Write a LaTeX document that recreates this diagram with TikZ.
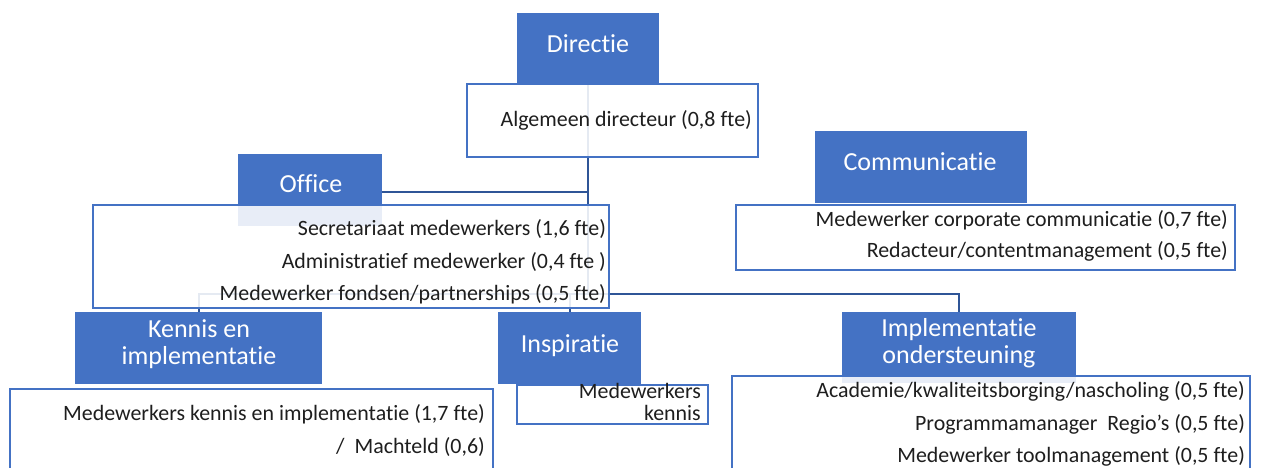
\documentclass[tikz,border=0pt]{standalone}
\usepackage{fontspec}
\setmainfont{Carlito}[Ligatures=NoCommon]
\definecolor{hdrblue}{HTML}{4472C4}
\definecolor{linkblue}{HTML}{2F5597}
\definecolor{txtc}{HTML}{1E1E1E}
\newcommand\hfnt{\fontsize{26}{27}\selectfont}
\newcommand\cfnt{\fontsize{21.9}{32}\selectfont}
\tikzset{
  hdrbox/.style={draw=none, fill=hdrblue, anchor=north west, inner sep=0pt},
  cbox/.style={draw=hdrblue, line width=2pt, fill=white, fill opacity=0.88, anchor=north west, inner sep=0pt},
  hdrtxt/.style={text=white, font=\hfnt, anchor=base, align=center, inner sep=0pt},
  ctxt/.style={text=txtc, font=\cfnt, anchor=base east, align=right, inner sep=0pt},
  conn/.style={draw=linkblue, line width=2pt},
}
\begin{document}
\begin{tikzpicture}[x=1pt,y=-1pt]
\useasboundingbox (0,0) rectangle (1262,468);
% header boxes
\node[hdrbox, minimum width=142pt, minimum height=70pt] (dir) at (517,13) {};
\node[hdrbox, minimum width=144pt, minimum height=72pt] (off) at (238,154) {};
\node[hdrbox, minimum width=212pt, minimum height=72pt] (com) at (815,131) {};
\node[hdrbox, minimum width=247pt, minimum height=72pt] (ken) at (75,312) {};
\node[hdrbox, minimum width=143pt, minimum height=72pt] (ins) at (498,312) {};
\node[hdrbox, minimum width=234pt, minimum height=71pt] (imp) at (842,312) {};
% connectors
\coordinate (j1) at (588,192);
\coordinate (j2) at (588,294);
\draw[conn] (dir.south) -- (dir.south |- j2);
\draw[conn] (j1 -| off.east) -- (j1);
\draw[conn] (ken.north) -- (ken.north |- j2) -- (imp.north |- j2) -- (imp.north);
\draw[conn] (ins.north) -- (ins.north |- j2);
% content boxes
\node[cbox, minimum width=291pt, minimum height=73pt] (dirc) at (466,83) {};
\node[cbox, minimum width=516pt, minimum height=103pt] (offc) at (92,204) {};
\node[cbox, minimum width=499pt, minimum height=65pt] (comc) at (735,204) {};
\node[cbox, minimum width=483pt, minimum height=100pt] (kenc) at (9,388) {};
\node[cbox, minimum width=191pt, minimum height=39pt] (insc) at (516,384) {};
\node[cbox, minimum width=518pt, minimum height=110pt] (impc) at (731,375) {};
% header texts
\node[hdrtxt] (dirt) at (588,53) {Directie};
\node[hdrtxt] (offt) at (311,193) {Office};
\node[hdrtxt] (comt) at (920,171) {Communicatie};
\node[hdrtxt] (kent) at (199,364) {Kennis en\\implementatie};
\node[hdrtxt] (inst) at (570,352) {Inspiratie};
\node[hdrtxt] (impt) at (959,363) {Implementatie\\ondersteuning};
% content texts
\node[ctxt] (t1) at (752,127) {Algemeen directeur (0,8 fte)};
\node[ctxt] (t2) at (606,236) {Secretariaat medewerkers (1,6 fte)};
\node[ctxt] (t3) at (606,268) {Administratief medewerker (0,4 fte )};
\node[ctxt] (t4) at (606,300) {Medewerker fondsen/partnerships (0,5 fte)};
\node[ctxt] (t5) at (1228,226) {Medewerker corporate communicatie (0,7 fte)};
\node[ctxt] (t6) at (1228,258) {Redacteur/contentmanagement (0,5 fte)};
\node[ctxt] (t7) at (485,420) {Medewerkers kennis en implementatie (1,7 fte)};
\node[ctxt] (t8) at (485,453) {/\ \ Machteld (0,6)};
\node[ctxt, font=\fontsize{21.9}{22}\selectfont] (t9) at (701,420) {Medewerkers\\kennis};
\node[ctxt] (t10) at (1245,397) {Academie/kwaliteitsborging/nascholing (0,5 fte)};
\node[ctxt] (t11) at (1245,430) {Programmamanager\ \ Regio’s (0,5 fte)};
\node[ctxt] (t12) at (1245,462) {Medewerker toolmanagement (0,5 fte)};
\end{tikzpicture}
\end{document}
